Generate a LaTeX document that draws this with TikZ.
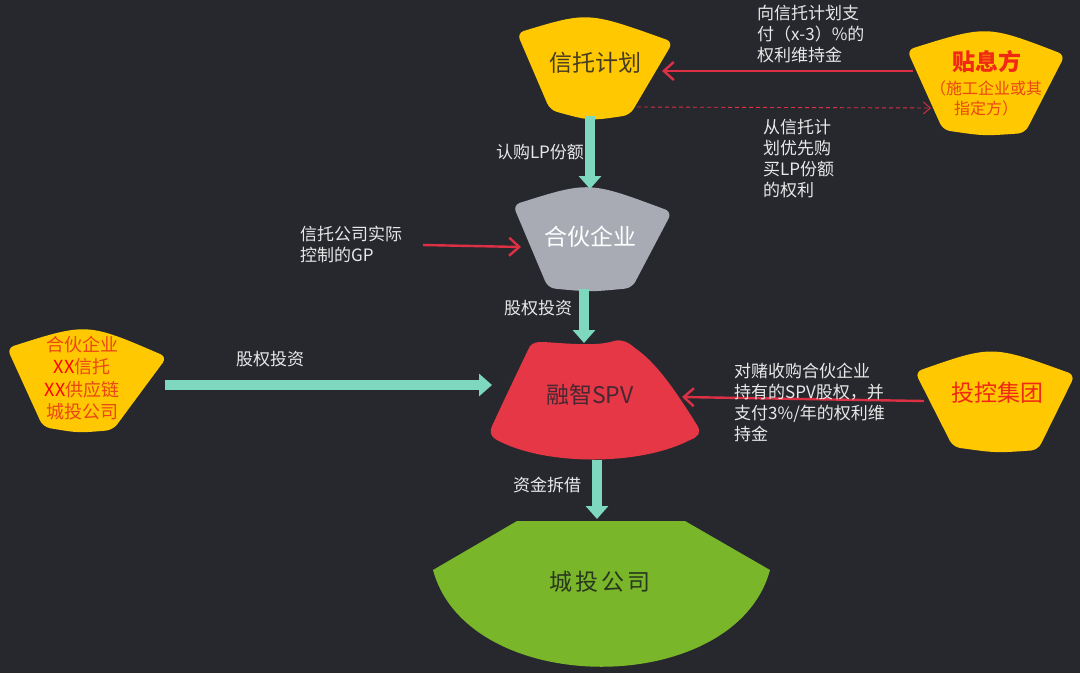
\documentclass[tikz,border=0pt]{standalone}
\usepackage{fontspec}
\setmainfont{Noto Sans CJK SC}
\usetikzlibrary{arrows.meta}
\definecolor{bg}{RGB}{38,40,46}
\definecolor{yel}{RGB}{255,200,0}
\definecolor{gry}{RGB}{168,170,180}
\definecolor{spvred}{RGB}{230,55,70}
\definecolor{grn}{RGB}{122,182,42}
\definecolor{arrg}{RGB}{125,216,190}
\definecolor{arrr}{RGB}{222,48,68}
\definecolor{txtc}{RGB}{232,232,232}
\definecolor{darkt}{RGB}{70,60,35}
\definecolor{redt}{RGB}{240,40,20}
\definecolor{orat}{RGB}{235,70,20}
\begin{document}
\begin{tikzpicture}[x=1pt,y=-1pt,
  lbl/.style={font=\fontsize{17}{21}\selectfont, text=txtc, align=left, inner sep=0pt},
  big/.style={font=\fontsize{23}{28}\selectfont, inner sep=0pt},
  garrow/.style={draw=arrg, line width=10pt, -{Triangle[length=13pt,width=22pt]}},
  rarrow/.style={draw=arrr, line width=2.4pt, -{Straight Barb[length=10pt,width=18pt]}},
  darrow/.style={draw=arrr, line width=0.9pt, dashed, dash pattern=on 4pt off 3pt, -{Straight Barb[length=7pt,width=12pt]}},
  shp/.style={rounded corners=7pt}
]
\fill[bg] (0,0) rectangle (1080,673);
\useasboundingbox (0,0) rectangle (1080,673);

% shapes
\fill[yel, shp] (517,33) .. controls (588,11.5) .. (673,42) -- (630,115) .. controls (590,121) .. (550,110) -- cycle;
\fill[yel, shp] (907,50) .. controls (987,25) .. (1065,55) -- (1025,133) .. controls (984,136) .. (943,130) -- cycle;
\fill[gry, shp] (513,205) .. controls (589,181) .. (672,212) -- (632,288) .. controls (590,292) .. (548,288) -- cycle;
\fill[yel, shp] (915,372) .. controls (992,345) .. (1075,375) -- (1038,450) .. controls (996,453) .. (953,447) -- cycle;
\fill[yel, shp] (7,348) .. controls (87,322.5) .. (167,357) -- (113,430) .. controls (78,433) .. (43,427) -- cycle;
\fill[spvred] (528,350) .. controls (530,344) and (534,342) .. (542,342)
   .. controls (565,343) and (595,347) .. (614,341)
   .. controls (622,339) and (628,342) .. (635,348)
   .. controls (655,362) and (672,385) .. (697,425)
   .. controls (702,433) and (698,437) .. (690,440)
   .. controls (640,466) and (545,466) .. (497,440)
   .. controls (490,436) and (489,432) .. (493,424)
   .. controls (505,398) and (516,375) .. (528,350) -- cycle;
\fill[grn] (517,521) -- (685,521) -- (770,570) .. controls (735,699) and (468,699) .. (433,570) -- cycle;

% main nodes
\node[big, text=darkt] (xt) at (595,63) {信托计划};
\node[big, text=white] (hh) at (590,237) {合伙企业};
\node[big, text={rgb,255:red,70;green,40;blue,50}] (spv) at (590,395) {融智SPV};
\node[big, text={rgb,255:red,40;green,55;blue,30}] (ct) at (600,582) {城\hspace{3pt}投\hspace{3pt}公\hspace{3pt}司};
\node[inner sep=0pt, text=redt, font=\fontsize{23}{28}\selectfont\bfseries] (tx) at (987,62) {贴息方};
\node[inner sep=0pt, text=orat, font=\fontsize{16}{20}\selectfont, align=center] (txs) at (986,98) {（施工企业或其\\指定方）};
\node[big, text=redt] (tk) at (997,393) {投控集团};
\node[inner sep=0pt, text=orat, font=\fontsize{18}{22.3}\selectfont, align=center] (lf) at (82,378)
  {合伙企业\\{\color{red}XX}信托\\{\color{red}XX}供应链\\城投公司};

% connector end points
\coordinate (xt-s) at (590,116);
\coordinate (hh-n) at (590,189);
\coordinate (hh-s) at (584,289);
\coordinate (spv-n) at (584,343);
\coordinate (spv-s) at (597,460);
\coordinate (ct-n) at (597,519);
\coordinate (lf-e) at (165,385);
\coordinate (spv-w) at (492,385);
\coordinate (tx-w) at (913,71);
\coordinate (xt-e) at (662,71);
\coordinate (xt-se) at (637,107);
\coordinate (tx-sw) at (931,108);
\coordinate (gp-e) at (423,245);
\coordinate (hh-w) at (521,247);
\coordinate (tk-w) at (924,401);
\coordinate (spv-e) at (682,397);

% connectors
\draw[garrow] (xt-s) -- (hh-n);
\draw[garrow] (hh-s) -- (spv-n);
\draw[garrow] (spv-s) -- (ct-n);
\draw[garrow] (lf-e) -- (spv-w);
\draw[rarrow] (tx-w) -- (xt-e);
\draw[darrow] (xt-se) -- (tx-sw);
\draw[rarrow] (gp-e) -- (hh-w);
\draw[rarrow] (tk-w) -- (spv-e);

% labels
\node[lbl, anchor=north west] (l1) at (757,5) {向信托计划支\\付（x-3）\%的\\权利维持金};
\node[lbl, anchor=north west] (l2) at (763,119) {从信托计\\划优先购\\买LP份额\\的权利};
\node[lbl, anchor=north west] (l3) at (300,226) {信托公司实际\\控制的GP};
\node[lbl] (l4) at (540,152) {认购LP份额};
\node[lbl] (l5) at (538,308) {股权投资};
\node[lbl] (l6) at (270,359) {股权投资};
\node[lbl, anchor=north west] (l7) at (734,363) {对赌收购合伙企业\\持有的SPV股权，并\\支付3\%/年的权利维\\持金};
\node[lbl] (l8) at (547,485) {资金拆借};
\end{tikzpicture}
\end{document}
